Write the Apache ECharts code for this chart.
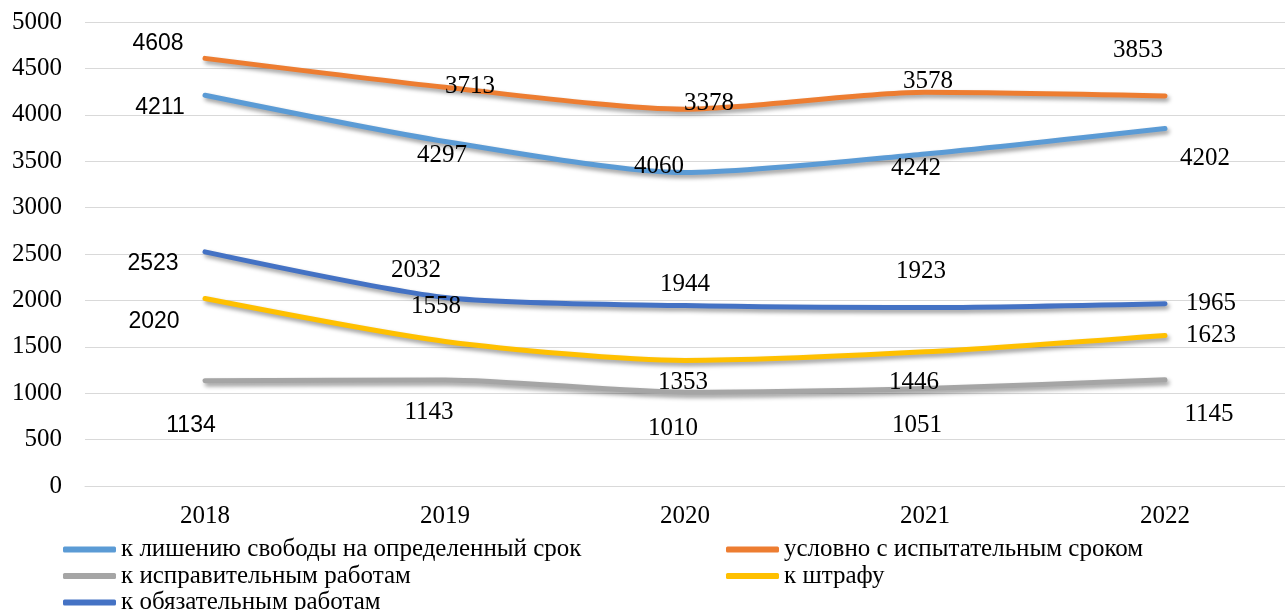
<!DOCTYPE html>
<html>
<head>
<meta charset="utf-8">
<script src="https://cdn.jsdelivr.net/npm/echarts@6/dist/echarts.min.js"></script>
<style>
  html, body { margin: 0; padding: 0; background: #fff; }
  #chart { width: 1285px; height: 610px; }
</style>
</head>
<body>
<div id="chart"></div>
<script>
// Years on the category axis
const years = ['2018', '2019', '2020', '2021', '2022'];

// Series names (legend order)
const nameFreedom = 'к лишению свободы на определенный срок';
const nameProbation = 'условно с испытательным сроком';
const nameCorrective = 'к исправительным работам';
const nameFine = 'к штрафу';
const nameCompulsory = 'к обязательным работам';

// Values per series
const freedomValues = [4211, 3713, 3378, 3578, 3853];
const probationValues = [4608, 4297, 4060, 4242, 4202];
const correctiveValues = [1134, 1143, 1010, 1051, 1145];
const fineValues = [2020, 1558, 1353, 1446, 1623];
const compulsoryValues = [2523, 2032, 1944, 1923, 1965];

// Y axis ticks
const yMin = 0, yMax = 5000, yStep = 500;

// Label nudges (px) around each point so the numbers sit clear of the lines
const freedomShift = [[-45, 12], [25, -55], [24, -69], [3, -73], [-27, -78]];
const probationShift = [[-47, -15], [-3, 68], [-26, 57], [-9, 76], [40, 62]];
const correctiveShift = [[-14, 45], [-16, 33], [-12, 36], [-8, 37], [44, 35]];
const fineShift = [[-51, 23], [-9, -35], [-2, 22], [-11, 31], [46, 0]];
const compulsoryShift = [[-52, 12], [-29, -27], [0, -21], [-4, -36], [46, 0]];

const serif = 'Liberation Serif';
const sans = 'Liberation Sans';
const textSize = 25;

function withLabels(values, shifts) {
  return values.map((v, i) => ({
    value: v,
    label: {
      offset: shifts[i],
      fontFamily: i === 0 ? sans : serif,
      fontSize: i === 0 ? 23 : textSize
    }
  }));
}

function lineSeries(name, color, values, shifts) {
  return {
    name: name,
    type: 'line',
    smooth: 0.25,
    symbol: 'circle',
    symbolSize: 1,
    itemStyle: { color: color },
    lineStyle: {
      color: color,
      width: 5,
      cap: 'round',
      join: 'round',
      shadowColor: 'rgba(0,0,0,0.4)',
      shadowBlur: 4,
      shadowOffsetX: 2,
      shadowOffsetY: 3
    },
    label: {
      show: true,
      position: 'inside',
      color: '#000',
      fontFamily: serif,
      fontSize: textSize
    },
    emphasis: { disabled: true },
    data: withLabels(values, shifts)
  };
}

const chart = echarts.init(document.getElementById('chart'), null, { renderer: 'canvas' });

const legendCommon = {
  orient: 'vertical',
  icon: 'roundRect',
  itemWidth: 53,
  itemHeight: 6,
  itemGap: 1.5,
  height: 120,
  textStyle: { fontFamily: serif, fontSize: textSize, color: '#000', lineHeight: 24 },
  selectedMode: false
};

chart.setOption({
  animation: false,
  backgroundColor: '#fff',
  grid: { left: 85, top: 22, width: 1215, height: 464, containLabel: false },
  xAxis: {
    type: 'category',
    data: years,
    boundaryGap: true,
    axisLine: { show: true, lineStyle: { color: '#D9D9D9', width: 1 } },
    axisTick: { show: false },
    axisLabel: { margin: 18, color: '#000', fontFamily: serif, fontSize: textSize },
    splitLine: { show: false }
  },
  yAxis: {
    type: 'value',
    min: yMin,
    max: yMax,
    interval: yStep,
    axisLine: { show: false },
    axisTick: { show: false },
    axisLabel: {
      margin: 23, color: '#000', fontFamily: serif, fontSize: textSize,
      formatter: (v) => String(v)
    },
    splitLine: { lineStyle: { color: '#D9D9D9', width: 1 } }
  },
  legend: [
    Object.assign({}, legendCommon, {
      left: 58, top: 532,
      data: [nameFreedom, nameCorrective, nameCompulsory]
    }),
    Object.assign({}, legendCommon, {
      left: 721, top: 532,
      data: [nameProbation, nameFine]
    })
  ],
  series: [
    lineSeries(nameFreedom, '#5B9BD5', freedomValues, freedomShift),
    lineSeries(nameProbation, '#ED7D31', probationValues, probationShift),
    lineSeries(nameCorrective, '#A5A5A5', correctiveValues, correctiveShift),
    lineSeries(nameFine, '#FFC000', fineValues, fineShift),
    lineSeries(nameCompulsory, '#4472C4', compulsoryValues, compulsoryShift)
  ]
});
</script>
</body>
</html>
